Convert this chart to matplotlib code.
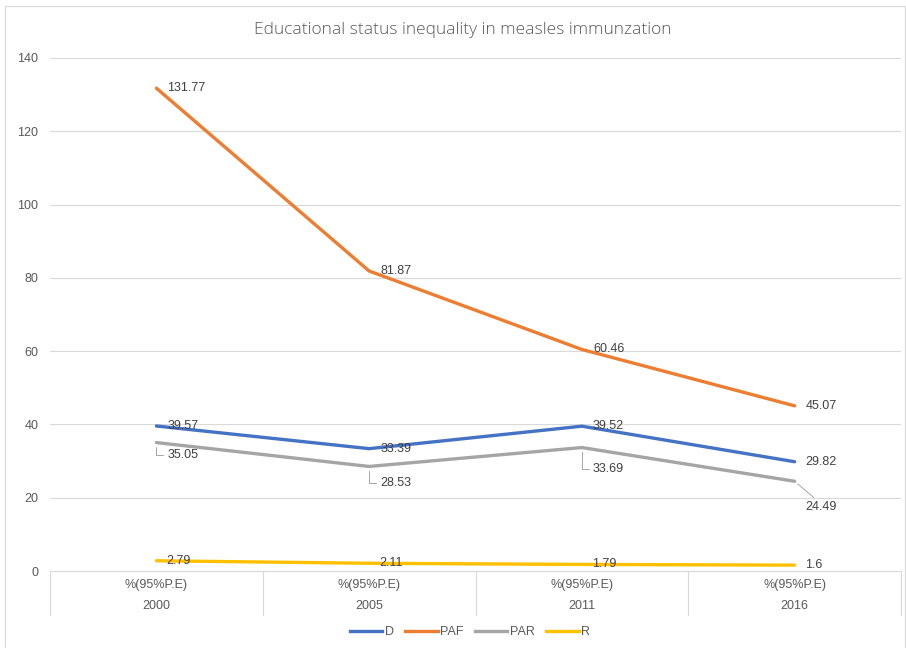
import matplotlib
matplotlib.use("Agg")
import matplotlib.pyplot as plt
from matplotlib.patches import Rectangle
from matplotlib.lines import Line2D

years = ["2000", "2005", "2011", "2016"]
sub_label = "%(95%P.E)"
D = [39.57, 33.39, 39.52, 29.82]
PAF = [131.77, 81.87, 60.46, 45.07]
PAR = [35.05, 28.53, 33.69, 24.49]
R = [2.79, 2.11, 1.79, 1.6]
series_names = ["D", "PAF", "PAR", "R"]
colors = ["#4472C4", "#ED7D31", "#A5A5A5", "#FFC000"]

plt.rcParams['font.family'] = ['Liberation Sans', 'DejaVu Sans']

fig = plt.figure(figsize=(9.06, 6.48), dpi=100)
W, H = 906, 648
ax = fig.add_axes([50 / W, 1 - 571 / H, (901 - 50) / W, (571 - 58) / H])

fig.patches.append(Rectangle((5 / W, 0), (905 - 5) / W, 1 - 6 / H, transform=fig.transFigure,
                             fill=False, edgecolor="#d9d9d9", lw=0.8))

x = list(range(len(years)))
data = [D, PAF, PAR, R]
for vals, c, n in zip(data, colors, series_names):
    ax.plot(x, vals, color=c, lw=2.4, label=n, solid_capstyle='round', zorder=3)

ax.set_xlim(-0.5, len(years) - 0.5)
ax.set_ylim(0, 140)
ax.set_yticks(range(0, 141, 20))
ax.tick_params(axis='y', length=0, labelsize=9, labelcolor="#595959", pad=8.5)
ax.set_xticks([])
ax.grid(axis='y', color="#d9d9d9", lw=0.8)
ax.set_axisbelow(True)
for s in ["top", "right", "left"]:
    ax.spines[s].set_visible(False)
ax.spines["bottom"].set_color("#d9d9d9")

# category axis (two-level)
px = 1.0 / (571 - 58)
for i in range(len(years) + 1):
    ax.plot([i - 0.5, i - 0.5], [0, -44 * px], transform=ax.get_xaxis_transform(),
            color="#d9d9d9", lw=0.8, clip_on=False)
for i, yv in enumerate(years):
    ax.text(i, -14 * px, sub_label, transform=ax.get_xaxis_transform(), ha='center', va='center',
            fontsize=9, color="#595959")
    ax.text(i, -35 * px, yv, transform=ax.get_xaxis_transform(), ha='center', va='center',
            fontsize=9, color="#595959")

lab_col = "#404040"
def lab(xv, yv, dx, dy, txt, leader=None):
    kw = {}
    if leader == 'angle':
        kw['arrowprops'] = dict(arrowstyle='-', color="#a5a5a5", lw=0.7, shrinkA=1, shrinkB=3,
                                relpos=(0, 0.5), connectionstyle='angle,angleA=0,angleB=90,rad=0')
    elif leader == 'line':
        kw['arrowprops'] = dict(arrowstyle='-', color="#a5a5a5", lw=0.7, shrinkA=1, shrinkB=3,
                                relpos=(0.4, 1.0))
    ax.annotate(txt, (xv, yv), xytext=(dx, -dy), textcoords='offset pixels',
                ha='left', va='center', fontsize=9, color=lab_col, zorder=5, **kw)

for i in x:
    lab(i, PAF[i], 11, 0, f"{PAF[i]:g}")
    lab(i, D[i], 11, 0, f"{D[i]:g}")
    lab(i, R[i], 10, 0, f"{R[i]:g}")
par_dy = [12, 17, 21, 26]
for i in x:
    lab(i, PAR[i], 11, par_dy[i], f"{PAR[i]:g}", leader='angle' if i < 3 else 'line')

fig.text(463 / W, 1 - 30 / H, "Educational status inequality in measles immunzation",
         ha='center', va='center', fontsize=12.5, color="#595959", family=['Open Sans', 'DejaVu Sans'],
         fontweight='light')

handles = [Line2D([0], [0], color=c, lw=2.4) for c in colors]
fig.legend(handles, series_names, loc='center', bbox_to_anchor=(470 / W, 1 - 632 / H), ncol=4,
           frameon=False, fontsize=9, handlelength=2.6, columnspacing=0.9, handletextpad=0.2,
           labelcolor="#595959")

fig.savefig("out.png", dpi=100)
